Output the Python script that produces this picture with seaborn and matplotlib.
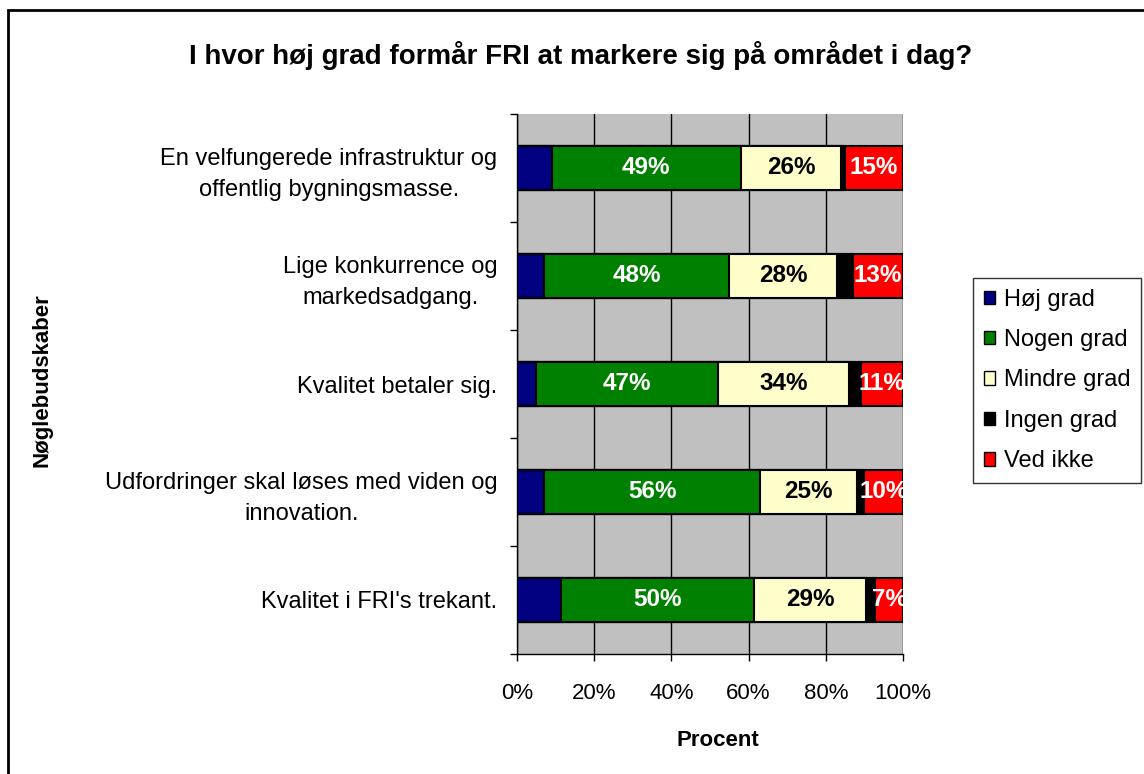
'''
Stacked bar chart: I hvor høj grad formår FRI at markere sig på området i dag?
'''

import numpy as np
import pandas as pd
import seaborn as sns
import matplotlib.pyplot as plt
from matplotlib.patches import Patch, Rectangle

categories = ['En velfungerede infrastruktur og\noffentlig bygningsmasse.',
              'Lige konkurrence og\nmarkedsadgang.',
              'Kvalitet betaler sig.',
              'Udfordringer skal løses med viden og\ninnovation.',
              "Kvalitet i FRI's trekant."]
series = ['Høj grad', 'Nogen grad', 'Mindre grad', 'Ingen grad', 'Ved ikke']
hoej = [9, 7, 5, 7, 11.5]
nogen = [49, 48, 47, 56, 50]
mindre = [26, 28, 34, 25, 29]
ingen = [1, 4, 3, 2, 2.3]
ved_ikke = [15, 13, 11, 10, 7.2]
colors = ['#000080', '#008000', '#FFFFCC', '#000000', '#FF0000']
label_colors = [None, 'white', 'black', None, 'white']


def plot_chart():
    sns.set_style('white')
    plt.rcParams['font.family'] = ['Liberation Sans', 'DejaVu Sans']
    for key in ['text.color', 'axes.labelcolor', 'xtick.color',
                'ytick.color']:
        plt.rcParams[key] = 'black'

    values = np.array([hoej, nogen, mindre, ingen, ved_ikke], dtype=float)
    values = values / values.sum(axis=0) * 100
    cum = values.cumsum(axis=0)
    df = pd.DataFrame({'cat': categories})

    fig = plt.figure(figsize=(11.44, 7.74), dpi=100)
    ax = fig.add_axes([517 / 1144, 1 - 654 / 774, 386 / 1144, 540 / 774])
    ax.set_facecolor('#C0C0C0')

    # draw from the full stack down so each shorter bar sits on top
    for i in reversed(range(len(series))):
        df['val'] = cum[i]
        sns.barplot(data=df, x='val', y='cat', orient='h', color=colors[i],
                    saturation=1, width=0.4, edgecolor='black',
                    linewidth=1.5, ax=ax, zorder=3)

    for i, col in enumerate(label_colors):
        if col is None:
            continue
        for j in range(len(categories)):
            mid = cum[i][j] - values[i][j] / 2
            ax.text(mid, j, f'{values[i][j]:.0f}%', ha='center', va='center',
                    color=col, fontsize=17.5, fontweight='bold', zorder=5)

    ax.set_xlim(0, 100)
    ax.set_ylim(len(categories) - 0.5, -0.5)
    ax.set_xticks(range(0, 101, 20))
    ax.set_xticklabels([f'{t}%' for t in range(0, 101, 20)], fontsize=16)
    ax.xaxis.grid(True, color='black', linewidth=1, zorder=0)
    ax.set_axisbelow(True)
    ax.set_yticks(range(len(categories)))
    ax.set_yticklabels(categories, fontsize=17, multialignment='center',
                       linespacing=1.5)
    ax.set_yticks(np.arange(-0.5, len(categories)), minor=True)
    ax.tick_params(axis='y', which='major', length=0, pad=14)
    ax.tick_params(axis='y', which='minor', length=5, width=1,
                   color='black', direction='out', left=True)
    ax.tick_params(axis='x', length=5, width=1, color='black',
                   direction='out', bottom=True, pad=16)
    ax.set_xlabel('')
    ax.set_ylabel('')
    for side in ['top', 'right']:
        ax.spines[side].set_visible(False)
    for side in ['left', 'bottom']:
        ax.spines[side].set_color('black')
        ax.spines[side].set_linewidth(1)

    fig.text(581 / 1144, 1 - 55 / 774,
             'I hvor høj grad formår FRI at markere sig på området i dag?',
             ha='center', va='center', fontsize=20, fontweight='bold')
    fig.text(718 / 1144, 1 - 740 / 774, 'Procent', ha='center',
             va='center', fontsize=16, fontweight='bold')
    fig.text(42 / 1144, 1 - 380 / 774, 'Nøglebudskaber', ha='center',
             va='center', rotation=90, fontsize=16, fontweight='bold')

    handles = [Patch(facecolor=c, edgecolor='black', linewidth=1)
               for c in colors]
    fig.legend(handles, series, loc='upper left',
               bbox_to_anchor=(973 / 1144, 1 - 278 / 774),
               fontsize=17, frameon=True, fancybox=False,
               edgecolor='black', handlelength=0.5, handleheight=0.5,
               handletextpad=0.35, labelspacing=0.78, borderpad=0.45,
               borderaxespad=0)

    fig.patches.append(Rectangle((8 / 1144, -0.05), 1.1, 1 - 10 / 774 + 0.05,
                                 transform=fig.transFigure, fill=False,
                                 edgecolor='black', linewidth=2))

    plt.savefig('out.png', dpi=100)


def main():
    plot_chart()


if __name__ == '__main__':
    main()
